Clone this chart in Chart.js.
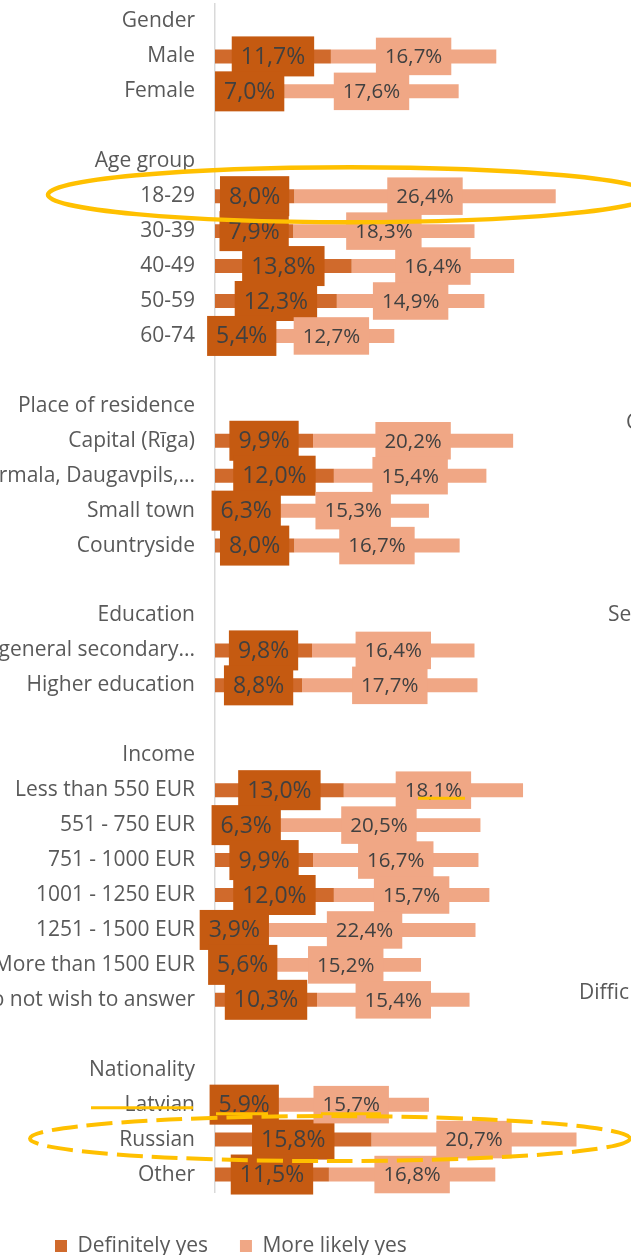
<!DOCTYPE html>
<html>
<head>
<meta charset="utf-8">
<script src="https://cdn.jsdelivr.net/npm/chart.js@4"></script>
<style>
html, body { margin: 0; padding: 0; background: #fff; }
canvas { display: block; }
</style>
</head>
<body>
<canvas id="myChart" width="631" height="1257"></canvas>
<script>
const categories = [
    'Gender', 'Male', 'Female', '',
    'Age group', '18-29', '30-39', '40-49', '50-59', '60-74', '',
    'Place of residence', 'Capital (Rīga)', 'Jūrmala, Daugavpils,...', 'Small town', 'Countryside', '',
    'Education', 'Primary education, general secondary...', 'Higher education', '',
    'Income', 'Less than 550 EUR', '551 - 750 EUR', '751 - 1000 EUR', '1001 - 1250 EUR', '1251 - 1500 EUR', 'More than 1500 EUR', 'Do not wish to answer', '',
    'Nationality', 'Latvian', 'Russian', 'Other'
];
const definitelyYes = [
    null, 11.7, 7.0, null,
    null, 8.0, 7.9, 13.8, 12.3, 5.4, null,
    null, 9.9, 12.0, 6.3, 8.0, null,
    null, 9.8, 8.8, null,
    null, 13.0, 6.3, 9.9, 12.0, 3.9, 5.6, 10.3, null,
    null, 5.9, 15.8, 11.5
];
const moreLikelyYes = [
    null, 16.7, 17.6, null,
    null, 26.4, 18.3, 16.4, 14.9, 12.7, null,
    null, 20.2, 15.4, 15.3, 16.7, null,
    null, 16.4, 17.7, null,
    null, 18.1, 20.5, 16.7, 15.7, 22.4, 15.2, 15.4, null,
    null, 15.7, 20.7, 16.8
];
const seriesNames = ['Definitely yes', 'More likely yes'];
const barColors = ['#D06A2C', '#F0A785'];
const labelBoxColors = ['#C55A11', '#F0A785'];
const labelSizes = [23, 20.5];

// legend sits left of centre in the original
const legendPos = {
    id: 'legendPos',
    afterLayout(chart) {
        chart.legend.left = 23;
        chart.legend.top += 11.5;
    }
};

// value labels with filled boxes
const boxLabels = {
    id: 'boxLabels',
    afterDatasetsDraw(chart) {
        const ctx = chart.ctx;
        ctx.save();
        ctx.textAlign = 'center';
        ctx.textBaseline = 'middle';
        chart.data.datasets.forEach((ds, i) => {
            const size = labelSizes[i];
            ctx.font = size + 'px "Open Sans"';
            chart.getDatasetMeta(i).data.forEach((bar, j) => {
                const v = ds.data[j];
                if (v == null) return;
                const text = v.toFixed(1).replace('.', ',') + '%';
                const w = ctx.measureText(text).width + 18;
                const h = size + 17;
                const cx = (bar.x + bar.base) / 2;
                ctx.fillStyle = labelBoxColors[i];
                ctx.fillRect(cx - w / 2, bar.y - h / 2, w, h);
                ctx.fillStyle = '#404040';
                ctx.fillText(text, cx, bar.y + 1);
            });
        });
        ctx.restore();
    }
};

// yellow hand-drawn highlights and cut-off text from the next chart
const marks = {
    id: 'marks',
    afterDraw(chart) {
        const ctx = chart.ctx;
        const row = name => chart.scales.y.getPixelForValue(categories.indexOf(name));
        ctx.save();
        ctx.strokeStyle = '#FFC000';
        ctx.lineWidth = 4.5;
        ctx.beginPath();
        ctx.ellipse(350, row('18-29') - 1.5, 302, 27.5, 0, 0, Math.PI * 2);
        ctx.stroke();

        ctx.lineWidth = 4;
        ctx.setLineDash([26, 9]);
        ctx.beginPath();
        ctx.ellipse(330, row('Russian') - 1, 300, 22.5, 0, 0, Math.PI * 2);
        ctx.stroke();
        ctx.setLineDash([]);

        ctx.lineWidth = 3;
        const lat = row('Latvian');
        const low = row('Less than 550 EUR');
        [[91, 193, lat + 3], [216, 268, lat + 9], [321, 381, lat + 9], [418, 465, low + 8]].forEach(u => {
            ctx.beginPath();
            ctx.moveTo(u[0], u[2]);
            ctx.lineTo(u[1], u[2]);
            ctx.stroke();
        });

        ctx.fillStyle = '#595959';
        ctx.font = '21px "Open Sans"';
        ctx.textAlign = 'left';
        ctx.textBaseline = 'middle';
        ctx.fillText('C', 626, 423);
        ctx.fillText('Se', 608, 615);
        ctx.fillText('Diffic', 579, 993);
        ctx.restore();
    }
};

new Chart(document.getElementById('myChart'), {
    type: 'bar',
    data: {
        labels: categories,
        datasets: [{
            label: seriesNames[0],
            data: definitelyYes,
            backgroundColor: barColors[0],
            borderWidth: 0,
            barPercentage: 0.4,
            categoryPercentage: 1
        }, {
            label: seriesNames[1],
            data: moreLikelyYes,
            backgroundColor: barColors[1],
            borderWidth: 0,
            barPercentage: 0.4,
            categoryPercentage: 1
        }]
    },
    options: {
        indexAxis: 'y',
        responsive: false,
        animation: false,
        layout: { padding: { top: 4, right: 0, bottom: 2, left: 0 } },
        scales: {
            x: {
                stacked: true,
                display: false,
                min: 0,
                max: 42
            },
            y: {
                stacked: true,
                grid: { display: false, drawTicks: false },
                border: { display: true, color: '#D9D9D9', width: 1.5 },
                ticks: {
                    autoSkip: false,
                    padding: 20,
                    color: '#595959',
                    font: { family: '"Open Sans"', size: 21 }
                },
                afterFit(scale) {
                    scale.width = 215;
                    scale.paddingTop = 0;
                    scale.paddingBottom = 0;
                }
            }
        },
        plugins: {
            legend: {
                position: 'bottom',
                align: 'start',
                labels: {
                    boxWidth: 12,
                    boxHeight: 12,
                    padding: 32,
                    color: '#595959',
                    font: { family: '"Open Sans"', size: 21 }
                }
            },
            tooltip: { enabled: false }
        }
    },
    plugins: [legendPos, boxLabels, marks]
});
</script>
</body>
</html>
